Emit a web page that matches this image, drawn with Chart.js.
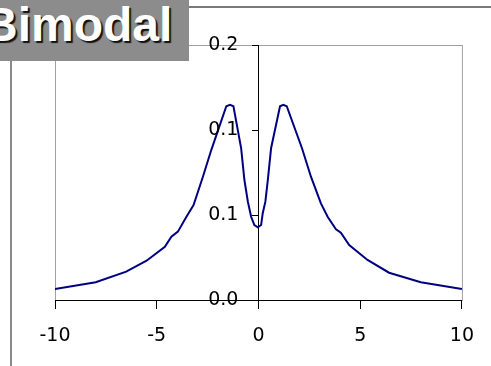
<!DOCTYPE html>
<html>
<head>
<meta charset="utf-8">
<script src="https://cdn.jsdelivr.net/npm/chart.js@4/dist/chart.umd.min.js"></script>
<style>
  html, body { margin: 0; padding: 0; background: #fff; }
  #wrap { position: relative; width: 491px; height: 366px; overflow: hidden; }
  #grafico { position: absolute; left: 0; top: 0; }
  .caja { position: absolute; left: 0; top: 0; width: 189px; height: 61px; background: #8c8c8c; overflow: hidden; }
  .titulo { position: absolute; left: -17px; top: -3px; font: bold 48px "Liberation Sans", Arial, sans-serif;
            color: #fff; text-shadow: 2px 2px 1px #111; white-space: nowrap; }
  .lineaTop { position: absolute; left: 189px; top: 6px; width: 302px; height: 2px; background: #7a7a7a; }
  .lineaIzq { position: absolute; left: 10px; top: 61px; width: 2px; height: 305px; background: #8a8a8a; }
</style>
</head>
<body>
<div id="wrap">
  <canvas id="grafico" width="491" height="366"></canvas>
  <div class="lineaTop"></div>
  <div class="lineaIzq"></div>
  <div class="caja"><div class="titulo">Bimodal</div></div>
</div>
<script>
// valores
const xValores = [-10, -8, -6.5, -5.5, -4.6, -4.28, -3.96, -3.54, -3.19, -2.73, -2.32, -1.58, -1.4, -1.23,
    -0.85, -0.69, -0.52, -0.36, -0.2, -0.03, 0.13, 0.21, 0.34, 0.46, 0.62, 1.06, 1.22, 1.39,
    2.14, 2.58, 3.07, 3.4, 3.81, 4.05, 4.46, 5.36, 6.42, 7.98, 10];
const yValores = [0.0086, 0.0139, 0.0222, 0.0308, 0.0418, 0.0496, 0.0536, 0.0653, 0.0745, 0.0967, 0.1176, 0.152, 0.153, 0.152,
    0.119, 0.0941, 0.0771, 0.0653, 0.0588, 0.057, 0.0588, 0.068, 0.0771, 0.0941, 0.119, 0.152, 0.153, 0.152,
    0.119, 0.0967, 0.0758, 0.0653, 0.0555, 0.0528, 0.0431, 0.0314, 0.0214, 0.0139, 0.0086];
const xTicks = [-10, -5, 0, 5, 10];
const yTicks = [0, 0.2 / 3, 0.4 / 3, 0.2];

const fuenteEje = { family: 'DejaVu Sans', size: 19 };

const bordeArea = {
    id: 'bordeArea',
    beforeDraw(chart) {
        const { ctx, chartArea } = chart;
        ctx.save();
        ctx.strokeStyle = '#a0a0a0';
        ctx.lineWidth = 1;
        ctx.strokeRect(chartArea.left + 0.5, chartArea.top + 0.5, chartArea.width, chartArea.height);
        ctx.restore();
    }
};

// etiquetas del eje y a la izquierda del eje central
const etiquetasY = {
    id: 'etiquetasY',
    afterDraw(chart) {
        const { ctx, scales } = chart;
        const xEje = scales.x.getPixelForValue(0);
        ctx.save();
        ctx.font = '19px "DejaVu Sans"';
        ctx.fillStyle = '#000';
        ctx.textAlign = 'right';
        ctx.textBaseline = 'middle';
        scales.y.ticks.forEach(t => {
            ctx.fillText(t.value.toFixed(1), xEje - 20, scales.y.getPixelForValue(t.value));
        });
        ctx.restore();
    }
};

const ctx = document.getElementById('grafico').getContext('2d');
new Chart(ctx, {
    type: 'line',
    data: {
        datasets: [{
            data: xValores.map((x, i) => ({ x: x, y: yValores[i] })),
            borderColor: '#000080',
            borderWidth: 2,
            pointRadius: 0,
            tension: 0,
            fill: false
        }]
    },
    options: {
        responsive: false,
        animation: false,
        layout: { padding: { left: 55, right: 28, top: 45, bottom: 66 } },
        plugins: { legend: { display: false }, tooltip: { enabled: false } },
        scales: {
            x: {
                type: 'linear',
                min: -10,
                max: 10,
                position: { y: 0 },
                afterBuildTicks: axis => { axis.ticks = xTicks.map(v => ({ value: v })); },
                ticks: { color: '#000', font: fuenteEje, padding: 17, maxRotation: 0 },
                grid: { drawOnChartArea: false, tickLength: 8, color: '#000' },
                border: { color: '#000', width: 1 }
            },
            y: {
                type: 'linear',
                min: 0,
                max: 0.2,
                position: { x: 0 },
                afterBuildTicks: axis => { axis.ticks = yTicks.map(v => ({ value: v })); },
                ticks: { display: false },
                grid: { drawOnChartArea: false, tickLength: 6, color: '#000' },
                border: { color: '#000', width: 1 }
            }
        }
    },
    plugins: [bordeArea, etiquetasY]
});
</script>
</body>
</html>
